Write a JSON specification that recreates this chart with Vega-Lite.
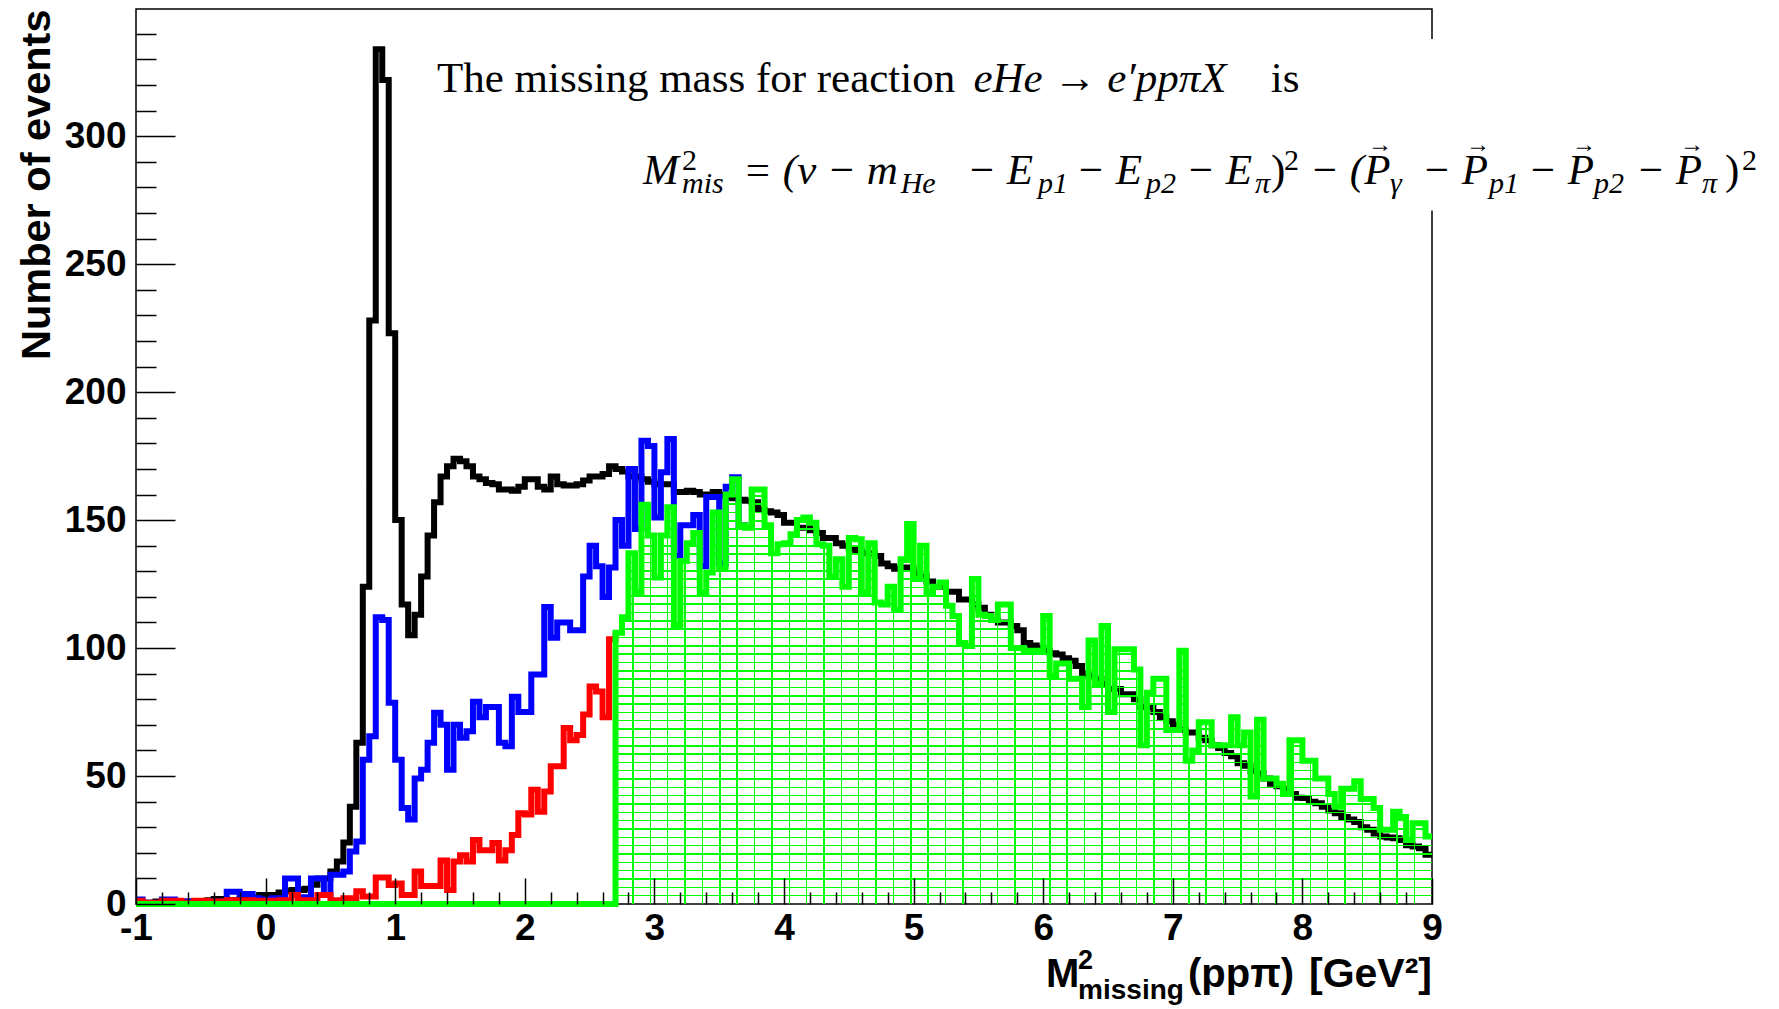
{
"$schema": "https://vega.github.io/schema/vega-lite/v6.json",
"width": 1296, "height": 895,
"autosize": {"type": "none"},
"padding": {"left": 136, "top": 9, "right": 347, "bottom": 105},
"background": "white",
"config": {
  "view": {"stroke": "#000000", "strokeWidth": 1.5},
  "axis": {"labelOverlap": false, "labelFlush": false, "labelBound": false},
  "text": {"font": "Liberation Serif", "fontSize": 43, "align": "left", "baseline": "alphabetic", "fill": "#000000"}
},
"resolve": {"axis": {"x": "independent", "y": "independent"}},
"datasets": {"hist": [
{"s":"k","x":-1,"n":1},{"s":"k","x":-0.95,"n":0.5},{"s":"k","x":-0.9,"n":0.5},{"s":"k","x":-0.85,"n":1},{"s":"k","x":-0.8,"n":0.5},{"s":"k","x":-0.75,"n":1},{"s":"k","x":-0.7,"n":1},{"s":"k","x":-0.65,"n":0.5},{"s":"k","x":-0.6,"n":1},{"s":"k","x":-0.55,"n":1},
{"s":"k","x":-0.5,"n":1},{"s":"k","x":-0.45,"n":1.5},{"s":"k","x":-0.4,"n":2},{"s":"k","x":-0.35,"n":2},{"s":"k","x":-0.3,"n":1.5},{"s":"k","x":-0.25,"n":1.5},{"s":"k","x":-0.2,"n":2},{"s":"k","x":-0.15,"n":1.5},{"s":"k","x":-0.1,"n":2.5},{"s":"k","x":-0.05,"n":3.5},
{"s":"k","x":0,"n":3.5},{"s":"k","x":0.05,"n":3.5},{"s":"k","x":0.1,"n":4.5},{"s":"k","x":0.15,"n":5},{"s":"k","x":0.2,"n":5.5},{"s":"k","x":0.25,"n":5.5},{"s":"k","x":0.3,"n":6},{"s":"k","x":0.35,"n":7.5},{"s":"k","x":0.4,"n":10},{"s":"k","x":0.45,"n":10},
{"s":"k","x":0.5,"n":12.7},{"s":"k","x":0.55,"n":16.6},{"s":"k","x":0.6,"n":24},{"s":"k","x":0.65,"n":38},{"s":"k","x":0.7,"n":63},{"s":"k","x":0.75,"n":124},{"s":"k","x":0.8,"n":228},{"s":"k","x":0.85,"n":334},{"s":"k","x":0.9,"n":322},{"s":"k","x":0.95,"n":223},
{"s":"k","x":1,"n":150},{"s":"k","x":1.05,"n":117},{"s":"k","x":1.1,"n":105},{"s":"k","x":1.15,"n":113},{"s":"k","x":1.2,"n":128},{"s":"k","x":1.25,"n":144},{"s":"k","x":1.3,"n":157},{"s":"k","x":1.35,"n":167},{"s":"k","x":1.4,"n":171},{"s":"k","x":1.45,"n":174},
{"s":"k","x":1.5,"n":173},{"s":"k","x":1.55,"n":171},{"s":"k","x":1.6,"n":167},{"s":"k","x":1.65,"n":166},{"s":"k","x":1.7,"n":164.5},{"s":"k","x":1.75,"n":164},{"s":"k","x":1.8,"n":162},{"s":"k","x":1.85,"n":162},{"s":"k","x":1.9,"n":161.5},{"s":"k","x":1.95,"n":163},
{"s":"k","x":2,"n":166},{"s":"k","x":2.05,"n":166},{"s":"k","x":2.1,"n":163},{"s":"k","x":2.15,"n":162},{"s":"k","x":2.2,"n":167},{"s":"k","x":2.25,"n":164},{"s":"k","x":2.3,"n":163.5},{"s":"k","x":2.35,"n":163.5},{"s":"k","x":2.4,"n":164},{"s":"k","x":2.45,"n":165.5},
{"s":"k","x":2.5,"n":167},{"s":"k","x":2.55,"n":167},{"s":"k","x":2.6,"n":168},{"s":"k","x":2.65,"n":171},{"s":"k","x":2.7,"n":170},{"s":"k","x":2.75,"n":169},{"s":"k","x":2.8,"n":167},{"s":"k","x":2.85,"n":167},{"s":"k","x":2.9,"n":166},{"s":"k","x":2.95,"n":165},
{"s":"k","x":3,"n":164},{"s":"k","x":3.05,"n":164},{"s":"k","x":3.1,"n":164},{"s":"k","x":3.15,"n":161},{"s":"k","x":3.2,"n":161},{"s":"k","x":3.25,"n":161.5},{"s":"k","x":3.3,"n":161},{"s":"k","x":3.35,"n":160},{"s":"k","x":3.4,"n":160},{"s":"k","x":3.45,"n":161},
{"s":"k","x":3.5,"n":160},{"s":"k","x":3.55,"n":159},{"s":"k","x":3.6,"n":158.5},{"s":"k","x":3.65,"n":158},{"s":"k","x":3.7,"n":157.6},{"s":"k","x":3.75,"n":157},{"s":"k","x":3.8,"n":154},{"s":"k","x":3.85,"n":153.5},{"s":"k","x":3.9,"n":153},{"s":"k","x":3.95,"n":152},
{"s":"k","x":4,"n":149},{"s":"k","x":4.05,"n":149},{"s":"k","x":4.1,"n":147},{"s":"k","x":4.15,"n":147},{"s":"k","x":4.2,"n":146},{"s":"k","x":4.25,"n":145},{"s":"k","x":4.3,"n":143},{"s":"k","x":4.35,"n":143},{"s":"k","x":4.4,"n":141},{"s":"k","x":4.45,"n":140},
{"s":"k","x":4.5,"n":139},{"s":"k","x":4.55,"n":138},{"s":"k","x":4.6,"n":137},{"s":"k","x":4.65,"n":137},{"s":"k","x":4.7,"n":136},{"s":"k","x":4.75,"n":133},{"s":"k","x":4.8,"n":132},{"s":"k","x":4.85,"n":131},{"s":"k","x":4.9,"n":131.5},{"s":"k","x":4.95,"n":131},
{"s":"k","x":5,"n":129},{"s":"k","x":5.05,"n":128},{"s":"k","x":5.1,"n":126},{"s":"k","x":5.15,"n":124},{"s":"k","x":5.2,"n":124},{"s":"k","x":5.25,"n":122},{"s":"k","x":5.3,"n":122},{"s":"k","x":5.35,"n":119},{"s":"k","x":5.4,"n":119},{"s":"k","x":5.45,"n":117},
{"s":"k","x":5.5,"n":115.8},{"s":"k","x":5.55,"n":113},{"s":"k","x":5.6,"n":111},{"s":"k","x":5.65,"n":110},{"s":"k","x":5.7,"n":110},{"s":"k","x":5.75,"n":108.6},{"s":"k","x":5.8,"n":107},{"s":"k","x":5.85,"n":102},{"s":"k","x":5.9,"n":101},{"s":"k","x":5.95,"n":100},
{"s":"k","x":6,"n":99},{"s":"k","x":6.05,"n":98},{"s":"k","x":6.1,"n":97.5},{"s":"k","x":6.15,"n":96},{"s":"k","x":6.2,"n":95},{"s":"k","x":6.25,"n":93},{"s":"k","x":6.3,"n":90},{"s":"k","x":6.35,"n":89},{"s":"k","x":6.4,"n":88},{"s":"k","x":6.45,"n":86},
{"s":"k","x":6.5,"n":84},{"s":"k","x":6.55,"n":84},{"s":"k","x":6.6,"n":82},{"s":"k","x":6.65,"n":82},{"s":"k","x":6.7,"n":80},{"s":"k","x":6.75,"n":77},{"s":"k","x":6.8,"n":77},{"s":"k","x":6.85,"n":75},{"s":"k","x":6.9,"n":73},{"s":"k","x":6.95,"n":71.4},
{"s":"k","x":7,"n":70},{"s":"k","x":7.05,"n":68},{"s":"k","x":7.1,"n":67},{"s":"k","x":7.15,"n":67},{"s":"k","x":7.2,"n":65},{"s":"k","x":7.25,"n":64},{"s":"k","x":7.3,"n":62},{"s":"k","x":7.35,"n":61},{"s":"k","x":7.4,"n":59},{"s":"k","x":7.45,"n":57.7},
{"s":"k","x":7.5,"n":55},{"s":"k","x":7.55,"n":54},{"s":"k","x":7.6,"n":52},{"s":"k","x":7.65,"n":51},{"s":"k","x":7.7,"n":49},{"s":"k","x":7.75,"n":47},{"s":"k","x":7.8,"n":46},{"s":"k","x":7.85,"n":45},{"s":"k","x":7.9,"n":43},{"s":"k","x":7.95,"n":41.5},
{"s":"k","x":8,"n":41.4},{"s":"k","x":8.05,"n":40},{"s":"k","x":8.1,"n":39.4},{"s":"k","x":8.15,"n":38},{"s":"k","x":8.2,"n":36.5},{"s":"k","x":8.25,"n":35.5},{"s":"k","x":8.3,"n":34},{"s":"k","x":8.35,"n":33},{"s":"k","x":8.4,"n":32},{"s":"k","x":8.45,"n":30},
{"s":"k","x":8.5,"n":29},{"s":"k","x":8.55,"n":27.5},{"s":"k","x":8.6,"n":26.4},{"s":"k","x":8.65,"n":26},{"s":"k","x":8.7,"n":25.7},{"s":"k","x":8.75,"n":25},{"s":"k","x":8.8,"n":23},{"s":"k","x":8.85,"n":22.5},{"s":"k","x":8.9,"n":21.8},{"s":"k","x":8.95,"n":19.2},{"s":"k","x":9,"n":19.2},

{"s":"b","x":-1,"n":1.8},{"s":"b","x":-0.95,"n":0.5},{"s":"b","x":-0.9,"n":0.5},{"s":"b","x":-0.85,"n":0.5},{"s":"b","x":-0.8,"n":1.8},{"s":"b","x":-0.75,"n":1.8},{"s":"b","x":-0.7,"n":1},{"s":"b","x":-0.65,"n":1},{"s":"b","x":-0.6,"n":1},{"s":"b","x":-0.55,"n":1},
{"s":"b","x":-0.5,"n":1},{"s":"b","x":-0.45,"n":1},{"s":"b","x":-0.4,"n":1},{"s":"b","x":-0.35,"n":1},{"s":"b","x":-0.3,"n":4.8},{"s":"b","x":-0.25,"n":4.8},{"s":"b","x":-0.2,"n":3.9},{"s":"b","x":-0.15,"n":3.9},{"s":"b","x":-0.1,"n":2.2},{"s":"b","x":-0.05,"n":1.8},
{"s":"b","x":0,"n":1.8},{"s":"b","x":0.05,"n":2.2},{"s":"b","x":0.1,"n":2.2},{"s":"b","x":0.15,"n":10},{"s":"b","x":0.2,"n":10},{"s":"b","x":0.25,"n":2.6},{"s":"b","x":0.3,"n":2.6},{"s":"b","x":0.35,"n":10},{"s":"b","x":0.4,"n":10},{"s":"b","x":0.45,"n":3.5},
{"s":"b","x":0.5,"n":11.4},{"s":"b","x":0.55,"n":11.4},{"s":"b","x":0.6,"n":12.7},{"s":"b","x":0.65,"n":20.5},{"s":"b","x":0.7,"n":24.4},{"s":"b","x":0.75,"n":56.4},{"s":"b","x":0.8,"n":65.5},{"s":"b","x":0.85,"n":112},{"s":"b","x":0.9,"n":111},{"s":"b","x":0.95,"n":78.6},
{"s":"b","x":1,"n":56.4},{"s":"b","x":1.05,"n":37.5},{"s":"b","x":1.1,"n":33},{"s":"b","x":1.15,"n":49},{"s":"b","x":1.2,"n":52.5},{"s":"b","x":1.25,"n":63},{"s":"b","x":1.3,"n":74.7},{"s":"b","x":1.35,"n":70},{"s":"b","x":1.4,"n":52.5},{"s":"b","x":1.45,"n":70},
{"s":"b","x":1.5,"n":65},{"s":"b","x":1.55,"n":67.5},{"s":"b","x":1.6,"n":79},{"s":"b","x":1.65,"n":73},{"s":"b","x":1.7,"n":77},{"s":"b","x":1.75,"n":77},{"s":"b","x":1.8,"n":63},{"s":"b","x":1.85,"n":61.6},{"s":"b","x":1.9,"n":81},{"s":"b","x":1.95,"n":75},
{"s":"b","x":2,"n":75},{"s":"b","x":2.05,"n":89.7},{"s":"b","x":2.1,"n":89.7},{"s":"b","x":2.15,"n":116},{"s":"b","x":2.2,"n":104},{"s":"b","x":2.25,"n":110},{"s":"b","x":2.3,"n":110},{"s":"b","x":2.35,"n":107},{"s":"b","x":2.4,"n":107},{"s":"b","x":2.45,"n":128},
{"s":"b","x":2.5,"n":140},{"s":"b","x":2.55,"n":132},{"s":"b","x":2.6,"n":120},{"s":"b","x":2.65,"n":131.5},{"s":"b","x":2.7,"n":150},{"s":"b","x":2.75,"n":140},{"s":"b","x":2.8,"n":170},{"s":"b","x":2.85,"n":146.5},{"s":"b","x":2.9,"n":181},{"s":"b","x":2.95,"n":179},
{"s":"b","x":3,"n":151},{"s":"b","x":3.05,"n":168.7},{"s":"b","x":3.1,"n":181.7},{"s":"b","x":3.15,"n":136},{"s":"b","x":3.2,"n":148},{"s":"b","x":3.25,"n":148},{"s":"b","x":3.3,"n":152},{"s":"b","x":3.35,"n":132},{"s":"b","x":3.4,"n":159},{"s":"b","x":3.45,"n":159},
{"s":"b","x":3.5,"n":133},{"s":"b","x":3.55,"n":163},{"s":"b","x":3.6,"n":166.7},{"s":"b","x":3.65,"n":148},{"s":"b","x":3.7,"n":147},

{"s":"r","x":-1,"n":1.3},{"s":"r","x":-0.95,"n":0.5},{"s":"r","x":-0.9,"n":0.5},{"s":"r","x":-0.85,"n":0.5},{"s":"r","x":-0.8,"n":1.3},{"s":"r","x":-0.75,"n":1.3},{"s":"r","x":-0.7,"n":1.3},{"s":"r","x":-0.65,"n":0.5},{"s":"r","x":-0.6,"n":0.5},{"s":"r","x":-0.55,"n":1.3},
{"s":"r","x":-0.5,"n":1.3},{"s":"r","x":-0.45,"n":1},{"s":"r","x":-0.4,"n":1},{"s":"r","x":-0.35,"n":1},{"s":"r","x":-0.3,"n":1.5},{"s":"r","x":-0.25,"n":1.5},{"s":"r","x":-0.2,"n":1.5},{"s":"r","x":-0.15,"n":1.5},{"s":"r","x":-0.1,"n":1.3},{"s":"r","x":-0.05,"n":1.3},
{"s":"r","x":0,"n":1.3},{"s":"r","x":0.05,"n":0.5},{"s":"r","x":0.1,"n":1.5},{"s":"r","x":0.15,"n":1.5},{"s":"r","x":0.2,"n":3.5},{"s":"r","x":0.25,"n":1.5},{"s":"r","x":0.3,"n":1.5},{"s":"r","x":0.35,"n":1.5},{"s":"r","x":0.4,"n":3.5},{"s":"r","x":0.45,"n":3.5},
{"s":"r","x":0.5,"n":1.5},{"s":"r","x":0.55,"n":1.5},{"s":"r","x":0.6,"n":2.2},{"s":"r","x":0.65,"n":2.2},{"s":"r","x":0.7,"n":5},{"s":"r","x":0.75,"n":2.9},{"s":"r","x":0.8,"n":2.9},{"s":"r","x":0.85,"n":10.4},{"s":"r","x":0.9,"n":10.4},{"s":"r","x":0.95,"n":7.4},
{"s":"r","x":1,"n":8},{"s":"r","x":1.05,"n":3.5},{"s":"r","x":1.1,"n":3.5},{"s":"r","x":1.15,"n":12.7},{"s":"r","x":1.2,"n":7},{"s":"r","x":1.25,"n":7},{"s":"r","x":1.3,"n":7},{"s":"r","x":1.35,"n":17},{"s":"r","x":1.4,"n":5.5},{"s":"r","x":1.45,"n":16.6},
{"s":"r","x":1.5,"n":19},{"s":"r","x":1.55,"n":16.6},{"s":"r","x":1.6,"n":25},{"s":"r","x":1.65,"n":21},{"s":"r","x":1.7,"n":21},{"s":"r","x":1.75,"n":23.8},{"s":"r","x":1.8,"n":17},{"s":"r","x":1.85,"n":21},{"s":"r","x":1.9,"n":27},{"s":"r","x":1.95,"n":35.5},
{"s":"r","x":2,"n":35},{"s":"r","x":2.05,"n":44.6},{"s":"r","x":2.1,"n":36},{"s":"r","x":2.15,"n":44},{"s":"r","x":2.2,"n":53.8},{"s":"r","x":2.25,"n":53.8},{"s":"r","x":2.3,"n":68.8},{"s":"r","x":2.35,"n":64},{"s":"r","x":2.4,"n":66},{"s":"r","x":2.45,"n":74},
{"s":"r","x":2.5,"n":85},{"s":"r","x":2.55,"n":83},{"s":"r","x":2.6,"n":73},{"s":"r","x":2.65,"n":103.4},{"s":"r","x":2.7,"n":106},

{"s":"g","x":-1,"n":0},
{"s":"g","x":2.7,"n":106},{"s":"g","x":2.75,"n":112},{"s":"g","x":2.8,"n":137},{"s":"g","x":2.85,"n":121.7},{"s":"g","x":2.9,"n":156},{"s":"g","x":2.95,"n":144},
{"s":"g","x":3,"n":127.6},{"s":"g","x":3.05,"n":144},{"s":"g","x":3.1,"n":155},{"s":"g","x":3.15,"n":109},{"s":"g","x":3.2,"n":134},{"s":"g","x":3.25,"n":141},{"s":"g","x":3.3,"n":145},{"s":"g","x":3.35,"n":121.7},{"s":"g","x":3.4,"n":129.5},{"s":"g","x":3.45,"n":153},
{"s":"g","x":3.5,"n":131},{"s":"g","x":3.55,"n":160},{"s":"g","x":3.6,"n":166},{"s":"g","x":3.65,"n":148},{"s":"g","x":3.7,"n":147},{"s":"g","x":3.75,"n":162},{"s":"g","x":3.8,"n":162},{"s":"g","x":3.85,"n":148},{"s":"g","x":3.9,"n":137},{"s":"g","x":3.95,"n":140.6},
{"s":"g","x":4,"n":141},{"s":"g","x":4.05,"n":144.5},{"s":"g","x":4.1,"n":150},{"s":"g","x":4.15,"n":151},{"s":"g","x":4.2,"n":149},{"s":"g","x":4.25,"n":140.6},{"s":"g","x":4.3,"n":140},{"s":"g","x":4.35,"n":128},{"s":"g","x":4.4,"n":134.7},{"s":"g","x":4.45,"n":124},
{"s":"g","x":4.5,"n":143},{"s":"g","x":4.55,"n":142.5},{"s":"g","x":4.6,"n":121.7},{"s":"g","x":4.65,"n":141},{"s":"g","x":4.7,"n":117.8},{"s":"g","x":4.75,"n":117},{"s":"g","x":4.8,"n":124},{"s":"g","x":4.85,"n":115},{"s":"g","x":4.9,"n":134.7},{"s":"g","x":4.95,"n":148.5},
{"s":"g","x":5,"n":127},{"s":"g","x":5.05,"n":140},{"s":"g","x":5.1,"n":121.7},{"s":"g","x":5.15,"n":124},{"s":"g","x":5.2,"n":125.6},{"s":"g","x":5.25,"n":116.5},{"s":"g","x":5.3,"n":112.5},{"s":"g","x":5.35,"n":102},{"s":"g","x":5.4,"n":100.8},{"s":"g","x":5.45,"n":127},
{"s":"g","x":5.5,"n":113},{"s":"g","x":5.55,"n":112.5},{"s":"g","x":5.6,"n":111},{"s":"g","x":5.65,"n":117},{"s":"g","x":5.7,"n":117},{"s":"g","x":5.75,"n":100},{"s":"g","x":5.8,"n":100},{"s":"g","x":5.85,"n":99},{"s":"g","x":5.9,"n":99},{"s":"g","x":5.95,"n":99},
{"s":"g","x":6,"n":112.5},{"s":"g","x":6.05,"n":89},{"s":"g","x":6.1,"n":94},{"s":"g","x":6.15,"n":94},{"s":"g","x":6.2,"n":88},{"s":"g","x":6.25,"n":88},{"s":"g","x":6.3,"n":77},{"s":"g","x":6.35,"n":103},{"s":"g","x":6.4,"n":86},{"s":"g","x":6.45,"n":108.6},
{"s":"g","x":6.5,"n":75},{"s":"g","x":6.55,"n":99.5},{"s":"g","x":6.6,"n":99.5},{"s":"g","x":6.65,"n":99.5},{"s":"g","x":6.7,"n":91.6},{"s":"g","x":6.75,"n":62},{"s":"g","x":6.8,"n":82.5},{"s":"g","x":6.85,"n":88},{"s":"g","x":6.9,"n":88},{"s":"g","x":6.95,"n":68},
{"s":"g","x":7,"n":68},{"s":"g","x":7.05,"n":99},{"s":"g","x":7.1,"n":56},{"s":"g","x":7.15,"n":60},{"s":"g","x":7.2,"n":71},{"s":"g","x":7.25,"n":71},{"s":"g","x":7.3,"n":62},{"s":"g","x":7.35,"n":62},{"s":"g","x":7.4,"n":62},{"s":"g","x":7.45,"n":73},
{"s":"g","x":7.5,"n":62},{"s":"g","x":7.55,"n":67},{"s":"g","x":7.6,"n":42},{"s":"g","x":7.65,"n":72},{"s":"g","x":7.7,"n":49},{"s":"g","x":7.75,"n":49},{"s":"g","x":7.8,"n":47},{"s":"g","x":7.85,"n":43},{"s":"g","x":7.9,"n":64},{"s":"g","x":7.95,"n":64},
{"s":"g","x":8,"n":56},{"s":"g","x":8.05,"n":56},{"s":"g","x":8.1,"n":49},{"s":"g","x":8.15,"n":49},{"s":"g","x":8.2,"n":43},{"s":"g","x":8.25,"n":38},{"s":"g","x":8.3,"n":45},{"s":"g","x":8.35,"n":45},{"s":"g","x":8.4,"n":48},{"s":"g","x":8.45,"n":41},
{"s":"g","x":8.5,"n":41},{"s":"g","x":8.55,"n":37.5},{"s":"g","x":8.6,"n":29},{"s":"g","x":8.65,"n":29},{"s":"g","x":8.7,"n":36},{"s":"g","x":8.75,"n":34},{"s":"g","x":8.8,"n":25},{"s":"g","x":8.85,"n":31.6},{"s":"g","x":8.9,"n":31.6},{"s":"g","x":8.95,"n":26.4},{"s":"g","x":9,"n":26.4}
]},
"layer": [
{
"data": {"name": "hist"},
"encoding": {
  "x": {"field": "x", "type": "quantitative",
    "scale": {"domain": [-1, 9], "nice": false, "zero": false},
    "axis": {"title": null, "domain": false, "grid": false, "zindex": 1,
      "values": [-1,-0.8,-0.6,-0.4,-0.2,0,0.2,0.4,0.6,0.8,1,1.2,1.4,1.6,1.8,2,2.2,2.4,2.6,2.8,3,3.2,3.4,3.6,3.8,4,4.2,4.4,4.6,4.8,5,5.2,5.4,5.6,5.8,6,6.2,6.4,6.6,6.8,7,7.2,7.4,7.6,7.8,8,8.2,8.4,8.6,8.8,9],
      "tickColor": "#000000", "tickWidth": 1.5,
      "tickSize": {"condition": {"test": "datum.value % 1 === 0", "value": -26}, "value": -12},
      "labelExpr": "datum.value % 1 === 0 ? '' + datum.value : ''",
      "labelFont": "Liberation Sans", "labelFontWeight": "bold", "labelFontSize": 37, "labelColor": "#000000",
      "labelPadding": 32, "labelOverlap": false, "labelFlush": false, "labelBound": false}},
  "y": {"field": "n", "type": "quantitative",
    "scale": {"domain": [0, 349.7], "nice": false},
    "axis": {"title": "Number of events", "titleFont": "Liberation Sans", "titleFontWeight": "bold", "titleFontSize": 41.5, "titleColor": "#000000",
      "titleAnchor": "end", "titlePadding": 6,
      "domain": false, "grid": false, "zindex": 1,
      "values": [0,10,20,30,40,50,60,70,80,90,100,110,120,130,140,150,160,170,180,190,200,210,220,230,240,250,260,270,280,290,300,310,320,330,340],
      "tickColor": "#000000", "tickWidth": 1.5,
      "tickSize": {"condition": {"test": "datum.value % 50 === 0", "value": -39}, "value": -20},
      "labelExpr": "datum.value % 50 === 0 ? '' + datum.value : ''",
      "labelFont": "Liberation Sans", "labelFontWeight": "bold", "labelFontSize": 37, "labelColor": "#000000",
      "labelPadding": 49, "labelOverlap": false, "labelFlush": false, "labelBound": false}}
},
"layer": [
  {"transform": [{"filter": "datum.s === 'k'"}], "mark": {"type": "line", "interpolate": "step-after", "color": "#000000", "strokeWidth": 6, "strokeCap": "butt", "strokeJoin": "miter"}},
  {"transform": [{"filter": "datum.s === 'b'"}], "mark": {"type": "line", "interpolate": "step-after", "color": "#0000ff", "strokeWidth": 6, "strokeCap": "butt", "strokeJoin": "miter"}},
  {"transform": [{"filter": "datum.s === 'r'"}], "mark": {"type": "line", "interpolate": "step-after", "color": "#ff0000", "strokeWidth": 6, "strokeCap": "butt", "strokeJoin": "miter"}},
  {"transform": [{"filter": "datum.s === 'g' && datum.x >= 2.7"}], "mark": {"type": "area", "interpolate": "step-after", "opacity": 1,
    "fill": {"gradient": "linear", "x1": 0, "y1": 0, "x2": 0, "y2": 1, "stops": [
      {"offset":0,"color":"#00ff00"},{"offset":0.0018,"color":"#00ff00"},{"offset":0.0018,"color":"rgba(0,255,0,0)"},
      {"offset":0.0178,"color":"rgba(0,255,0,0)"},{"offset":0.0178,"color":"#00ff00"},{"offset":0.0214,"color":"#00ff00"},{"offset":0.0214,"color":"rgba(0,255,0,0)"},
      {"offset":0.0374,"color":"rgba(0,255,0,0)"},{"offset":0.0374,"color":"#00ff00"},{"offset":0.0410,"color":"#00ff00"},{"offset":0.0410,"color":"rgba(0,255,0,0)"},
      {"offset":0.0570,"color":"rgba(0,255,0,0)"},{"offset":0.0570,"color":"#00ff00"},{"offset":0.0606,"color":"#00ff00"},{"offset":0.0606,"color":"rgba(0,255,0,0)"},
      {"offset":0.0766,"color":"rgba(0,255,0,0)"},{"offset":0.0766,"color":"#00ff00"},{"offset":0.0802,"color":"#00ff00"},{"offset":0.0802,"color":"rgba(0,255,0,0)"},
      {"offset":0.0962,"color":"rgba(0,255,0,0)"},{"offset":0.0962,"color":"#00ff00"},{"offset":0.0998,"color":"#00ff00"},{"offset":0.0998,"color":"rgba(0,255,0,0)"},
      {"offset":0.1158,"color":"rgba(0,255,0,0)"},{"offset":0.1158,"color":"#00ff00"},{"offset":0.1194,"color":"#00ff00"},{"offset":0.1194,"color":"rgba(0,255,0,0)"},
      {"offset":0.1355,"color":"rgba(0,255,0,0)"},{"offset":0.1355,"color":"#00ff00"},{"offset":0.1391,"color":"#00ff00"},{"offset":0.1391,"color":"rgba(0,255,0,0)"},
      {"offset":0.1551,"color":"rgba(0,255,0,0)"},{"offset":0.1551,"color":"#00ff00"},{"offset":0.1587,"color":"#00ff00"},{"offset":0.1587,"color":"rgba(0,255,0,0)"},
      {"offset":0.1747,"color":"rgba(0,255,0,0)"},{"offset":0.1747,"color":"#00ff00"},{"offset":0.1783,"color":"#00ff00"},{"offset":0.1783,"color":"rgba(0,255,0,0)"},
      {"offset":0.1943,"color":"rgba(0,255,0,0)"},{"offset":0.1943,"color":"#00ff00"},{"offset":0.1979,"color":"#00ff00"},{"offset":0.1979,"color":"rgba(0,255,0,0)"},
      {"offset":0.2139,"color":"rgba(0,255,0,0)"},{"offset":0.2139,"color":"#00ff00"},{"offset":0.2175,"color":"#00ff00"},{"offset":0.2175,"color":"rgba(0,255,0,0)"},
      {"offset":0.2335,"color":"rgba(0,255,0,0)"},{"offset":0.2335,"color":"#00ff00"},{"offset":0.2371,"color":"#00ff00"},{"offset":0.2371,"color":"rgba(0,255,0,0)"},
      {"offset":0.2531,"color":"rgba(0,255,0,0)"},{"offset":0.2531,"color":"#00ff00"},{"offset":0.2567,"color":"#00ff00"},{"offset":0.2567,"color":"rgba(0,255,0,0)"},
      {"offset":0.2727,"color":"rgba(0,255,0,0)"},{"offset":0.2727,"color":"#00ff00"},{"offset":0.2763,"color":"#00ff00"},{"offset":0.2763,"color":"rgba(0,255,0,0)"},
      {"offset":0.2923,"color":"rgba(0,255,0,0)"},{"offset":0.2923,"color":"#00ff00"},{"offset":0.2959,"color":"#00ff00"},{"offset":0.2959,"color":"rgba(0,255,0,0)"},
      {"offset":0.3119,"color":"rgba(0,255,0,0)"},{"offset":0.3119,"color":"#00ff00"},{"offset":0.3155,"color":"#00ff00"},{"offset":0.3155,"color":"rgba(0,255,0,0)"},
      {"offset":0.3315,"color":"rgba(0,255,0,0)"},{"offset":0.3315,"color":"#00ff00"},{"offset":0.3351,"color":"#00ff00"},{"offset":0.3351,"color":"rgba(0,255,0,0)"},
      {"offset":0.3511,"color":"rgba(0,255,0,0)"},{"offset":0.3511,"color":"#00ff00"},{"offset":0.3547,"color":"#00ff00"},{"offset":0.3547,"color":"rgba(0,255,0,0)"},
      {"offset":0.3707,"color":"rgba(0,255,0,0)"},{"offset":0.3707,"color":"#00ff00"},{"offset":0.3743,"color":"#00ff00"},{"offset":0.3743,"color":"rgba(0,255,0,0)"},
      {"offset":0.3904,"color":"rgba(0,255,0,0)"},{"offset":0.3904,"color":"#00ff00"},{"offset":0.3940,"color":"#00ff00"},{"offset":0.3940,"color":"rgba(0,255,0,0)"},
      {"offset":0.4100,"color":"rgba(0,255,0,0)"},{"offset":0.4100,"color":"#00ff00"},{"offset":0.4136,"color":"#00ff00"},{"offset":0.4136,"color":"rgba(0,255,0,0)"},
      {"offset":0.4296,"color":"rgba(0,255,0,0)"},{"offset":0.4296,"color":"#00ff00"},{"offset":0.4332,"color":"#00ff00"},{"offset":0.4332,"color":"rgba(0,255,0,0)"},
      {"offset":0.4492,"color":"rgba(0,255,0,0)"},{"offset":0.4492,"color":"#00ff00"},{"offset":0.4528,"color":"#00ff00"},{"offset":0.4528,"color":"rgba(0,255,0,0)"},
      {"offset":0.4688,"color":"rgba(0,255,0,0)"},{"offset":0.4688,"color":"#00ff00"},{"offset":0.4724,"color":"#00ff00"},{"offset":0.4724,"color":"rgba(0,255,0,0)"},
      {"offset":0.4884,"color":"rgba(0,255,0,0)"},{"offset":0.4884,"color":"#00ff00"},{"offset":0.4920,"color":"#00ff00"},{"offset":0.4920,"color":"rgba(0,255,0,0)"},
      {"offset":0.5080,"color":"rgba(0,255,0,0)"},{"offset":0.5080,"color":"#00ff00"},{"offset":0.5116,"color":"#00ff00"},{"offset":0.5116,"color":"rgba(0,255,0,0)"},
      {"offset":0.5276,"color":"rgba(0,255,0,0)"},{"offset":0.5276,"color":"#00ff00"},{"offset":0.5312,"color":"#00ff00"},{"offset":0.5312,"color":"rgba(0,255,0,0)"},
      {"offset":0.5472,"color":"rgba(0,255,0,0)"},{"offset":0.5472,"color":"#00ff00"},{"offset":0.5508,"color":"#00ff00"},{"offset":0.5508,"color":"rgba(0,255,0,0)"},
      {"offset":0.5668,"color":"rgba(0,255,0,0)"},{"offset":0.5668,"color":"#00ff00"},{"offset":0.5704,"color":"#00ff00"},{"offset":0.5704,"color":"rgba(0,255,0,0)"},
      {"offset":0.5864,"color":"rgba(0,255,0,0)"},{"offset":0.5864,"color":"#00ff00"},{"offset":0.5900,"color":"#00ff00"},{"offset":0.5900,"color":"rgba(0,255,0,0)"},
      {"offset":0.6060,"color":"rgba(0,255,0,0)"},{"offset":0.6060,"color":"#00ff00"},{"offset":0.6096,"color":"#00ff00"},{"offset":0.6096,"color":"rgba(0,255,0,0)"},
      {"offset":0.6257,"color":"rgba(0,255,0,0)"},{"offset":0.6257,"color":"#00ff00"},{"offset":0.6293,"color":"#00ff00"},{"offset":0.6293,"color":"rgba(0,255,0,0)"},
      {"offset":0.6453,"color":"rgba(0,255,0,0)"},{"offset":0.6453,"color":"#00ff00"},{"offset":0.6489,"color":"#00ff00"},{"offset":0.6489,"color":"rgba(0,255,0,0)"},
      {"offset":0.6649,"color":"rgba(0,255,0,0)"},{"offset":0.6649,"color":"#00ff00"},{"offset":0.6685,"color":"#00ff00"},{"offset":0.6685,"color":"rgba(0,255,0,0)"},
      {"offset":0.6845,"color":"rgba(0,255,0,0)"},{"offset":0.6845,"color":"#00ff00"},{"offset":0.6881,"color":"#00ff00"},{"offset":0.6881,"color":"rgba(0,255,0,0)"},
      {"offset":0.7041,"color":"rgba(0,255,0,0)"},{"offset":0.7041,"color":"#00ff00"},{"offset":0.7077,"color":"#00ff00"},{"offset":0.7077,"color":"rgba(0,255,0,0)"},
      {"offset":0.7237,"color":"rgba(0,255,0,0)"},{"offset":0.7237,"color":"#00ff00"},{"offset":0.7273,"color":"#00ff00"},{"offset":0.7273,"color":"rgba(0,255,0,0)"},
      {"offset":0.7433,"color":"rgba(0,255,0,0)"},{"offset":0.7433,"color":"#00ff00"},{"offset":0.7469,"color":"#00ff00"},{"offset":0.7469,"color":"rgba(0,255,0,0)"},
      {"offset":0.7629,"color":"rgba(0,255,0,0)"},{"offset":0.7629,"color":"#00ff00"},{"offset":0.7665,"color":"#00ff00"},{"offset":0.7665,"color":"rgba(0,255,0,0)"},
      {"offset":0.7825,"color":"rgba(0,255,0,0)"},{"offset":0.7825,"color":"#00ff00"},{"offset":0.7861,"color":"#00ff00"},{"offset":0.7861,"color":"rgba(0,255,0,0)"},
      {"offset":0.8021,"color":"rgba(0,255,0,0)"},{"offset":0.8021,"color":"#00ff00"},{"offset":0.8057,"color":"#00ff00"},{"offset":0.8057,"color":"rgba(0,255,0,0)"},
      {"offset":0.8217,"color":"rgba(0,255,0,0)"},{"offset":0.8217,"color":"#00ff00"},{"offset":0.8253,"color":"#00ff00"},{"offset":0.8253,"color":"rgba(0,255,0,0)"},
      {"offset":0.8413,"color":"rgba(0,255,0,0)"},{"offset":0.8413,"color":"#00ff00"},{"offset":0.8449,"color":"#00ff00"},{"offset":0.8449,"color":"rgba(0,255,0,0)"},
      {"offset":0.8609,"color":"rgba(0,255,0,0)"},{"offset":0.8609,"color":"#00ff00"},{"offset":0.8645,"color":"#00ff00"},{"offset":0.8645,"color":"rgba(0,255,0,0)"},
      {"offset":0.8806,"color":"rgba(0,255,0,0)"},{"offset":0.8806,"color":"#00ff00"},{"offset":0.8842,"color":"#00ff00"},{"offset":0.8842,"color":"rgba(0,255,0,0)"},
      {"offset":0.9002,"color":"rgba(0,255,0,0)"},{"offset":0.9002,"color":"#00ff00"},{"offset":0.9038,"color":"#00ff00"},{"offset":0.9038,"color":"rgba(0,255,0,0)"},
      {"offset":0.9198,"color":"rgba(0,255,0,0)"},{"offset":0.9198,"color":"#00ff00"},{"offset":0.9234,"color":"#00ff00"},{"offset":0.9234,"color":"rgba(0,255,0,0)"},
      {"offset":0.9394,"color":"rgba(0,255,0,0)"},{"offset":0.9394,"color":"#00ff00"},{"offset":0.9430,"color":"#00ff00"},{"offset":0.9430,"color":"rgba(0,255,0,0)"},
      {"offset":0.9590,"color":"rgba(0,255,0,0)"},{"offset":0.9590,"color":"#00ff00"},{"offset":0.9626,"color":"#00ff00"},{"offset":0.9626,"color":"rgba(0,255,0,0)"},
      {"offset":0.9786,"color":"rgba(0,255,0,0)"},{"offset":0.9786,"color":"#00ff00"},{"offset":0.9822,"color":"#00ff00"},{"offset":0.9822,"color":"rgba(0,255,0,0)"},
      {"offset":1,"color":"rgba(0,255,0,0)"}
    ]}}},
  {"transform": [{"filter": "datum.s === 'g' && datum.x >= 2.7"}], "mark": {"type": "area", "interpolate": "step-after", "opacity": 1,
    "fill": {"gradient": "linear", "x1": 0, "y1": 0, "x2": 1, "y2": 0, "stops": [
      {"offset":0,"color":"rgba(0,255,0,0)"},
      {"offset":0.0204,"color":"rgba(0,255,0,0)"},{"offset":0.0204,"color":"#00ff00"},{"offset":0.0222,"color":"#00ff00"},{"offset":0.0222,"color":"rgba(0,255,0,0)"},
      {"offset":0.0417,"color":"rgba(0,255,0,0)"},{"offset":0.0417,"color":"#00ff00"},{"offset":0.0435,"color":"#00ff00"},{"offset":0.0435,"color":"rgba(0,255,0,0)"},
      {"offset":0.0629,"color":"rgba(0,255,0,0)"},{"offset":0.0629,"color":"#00ff00"},{"offset":0.0647,"color":"#00ff00"},{"offset":0.0647,"color":"rgba(0,255,0,0)"},
      {"offset":0.0842,"color":"rgba(0,255,0,0)"},{"offset":0.0842,"color":"#00ff00"},{"offset":0.0860,"color":"#00ff00"},{"offset":0.0860,"color":"rgba(0,255,0,0)"},
      {"offset":0.1055,"color":"rgba(0,255,0,0)"},{"offset":0.1055,"color":"#00ff00"},{"offset":0.1073,"color":"#00ff00"},{"offset":0.1073,"color":"rgba(0,255,0,0)"},
      {"offset":0.1268,"color":"rgba(0,255,0,0)"},{"offset":0.1268,"color":"#00ff00"},{"offset":0.1286,"color":"#00ff00"},{"offset":0.1286,"color":"rgba(0,255,0,0)"},
      {"offset":0.1480,"color":"rgba(0,255,0,0)"},{"offset":0.1480,"color":"#00ff00"},{"offset":0.1498,"color":"#00ff00"},{"offset":0.1498,"color":"rgba(0,255,0,0)"},
      {"offset":0.1693,"color":"rgba(0,255,0,0)"},{"offset":0.1693,"color":"#00ff00"},{"offset":0.1711,"color":"#00ff00"},{"offset":0.1711,"color":"rgba(0,255,0,0)"},
      {"offset":0.1906,"color":"rgba(0,255,0,0)"},{"offset":0.1906,"color":"#00ff00"},{"offset":0.1924,"color":"#00ff00"},{"offset":0.1924,"color":"rgba(0,255,0,0)"},
      {"offset":0.2119,"color":"rgba(0,255,0,0)"},{"offset":0.2119,"color":"#00ff00"},{"offset":0.2137,"color":"#00ff00"},{"offset":0.2137,"color":"rgba(0,255,0,0)"},
      {"offset":0.2331,"color":"rgba(0,255,0,0)"},{"offset":0.2331,"color":"#00ff00"},{"offset":0.2349,"color":"#00ff00"},{"offset":0.2349,"color":"rgba(0,255,0,0)"},
      {"offset":0.2544,"color":"rgba(0,255,0,0)"},{"offset":0.2544,"color":"#00ff00"},{"offset":0.2562,"color":"#00ff00"},{"offset":0.2562,"color":"rgba(0,255,0,0)"},
      {"offset":0.2757,"color":"rgba(0,255,0,0)"},{"offset":0.2757,"color":"#00ff00"},{"offset":0.2775,"color":"#00ff00"},{"offset":0.2775,"color":"rgba(0,255,0,0)"},
      {"offset":0.2970,"color":"rgba(0,255,0,0)"},{"offset":0.2970,"color":"#00ff00"},{"offset":0.2988,"color":"#00ff00"},{"offset":0.2988,"color":"rgba(0,255,0,0)"},
      {"offset":0.3182,"color":"rgba(0,255,0,0)"},{"offset":0.3182,"color":"#00ff00"},{"offset":0.3200,"color":"#00ff00"},{"offset":0.3200,"color":"rgba(0,255,0,0)"},
      {"offset":0.3395,"color":"rgba(0,255,0,0)"},{"offset":0.3395,"color":"#00ff00"},{"offset":0.3413,"color":"#00ff00"},{"offset":0.3413,"color":"rgba(0,255,0,0)"},
      {"offset":0.3608,"color":"rgba(0,255,0,0)"},{"offset":0.3608,"color":"#00ff00"},{"offset":0.3626,"color":"#00ff00"},{"offset":0.3626,"color":"rgba(0,255,0,0)"},
      {"offset":0.3821,"color":"rgba(0,255,0,0)"},{"offset":0.3821,"color":"#00ff00"},{"offset":0.3839,"color":"#00ff00"},{"offset":0.3839,"color":"rgba(0,255,0,0)"},
      {"offset":0.4034,"color":"rgba(0,255,0,0)"},{"offset":0.4034,"color":"#00ff00"},{"offset":0.4052,"color":"#00ff00"},{"offset":0.4052,"color":"rgba(0,255,0,0)"},
      {"offset":0.4246,"color":"rgba(0,255,0,0)"},{"offset":0.4246,"color":"#00ff00"},{"offset":0.4264,"color":"#00ff00"},{"offset":0.4264,"color":"rgba(0,255,0,0)"},
      {"offset":0.4459,"color":"rgba(0,255,0,0)"},{"offset":0.4459,"color":"#00ff00"},{"offset":0.4477,"color":"#00ff00"},{"offset":0.4477,"color":"rgba(0,255,0,0)"},
      {"offset":0.4672,"color":"rgba(0,255,0,0)"},{"offset":0.4672,"color":"#00ff00"},{"offset":0.4690,"color":"#00ff00"},{"offset":0.4690,"color":"rgba(0,255,0,0)"},
      {"offset":0.4885,"color":"rgba(0,255,0,0)"},{"offset":0.4885,"color":"#00ff00"},{"offset":0.4903,"color":"#00ff00"},{"offset":0.4903,"color":"rgba(0,255,0,0)"},
      {"offset":0.5097,"color":"rgba(0,255,0,0)"},{"offset":0.5097,"color":"#00ff00"},{"offset":0.5115,"color":"#00ff00"},{"offset":0.5115,"color":"rgba(0,255,0,0)"},
      {"offset":0.5310,"color":"rgba(0,255,0,0)"},{"offset":0.5310,"color":"#00ff00"},{"offset":0.5328,"color":"#00ff00"},{"offset":0.5328,"color":"rgba(0,255,0,0)"},
      {"offset":0.5523,"color":"rgba(0,255,0,0)"},{"offset":0.5523,"color":"#00ff00"},{"offset":0.5541,"color":"#00ff00"},{"offset":0.5541,"color":"rgba(0,255,0,0)"},
      {"offset":0.5736,"color":"rgba(0,255,0,0)"},{"offset":0.5736,"color":"#00ff00"},{"offset":0.5754,"color":"#00ff00"},{"offset":0.5754,"color":"rgba(0,255,0,0)"},
      {"offset":0.5948,"color":"rgba(0,255,0,0)"},{"offset":0.5948,"color":"#00ff00"},{"offset":0.5966,"color":"#00ff00"},{"offset":0.5966,"color":"rgba(0,255,0,0)"},
      {"offset":0.6161,"color":"rgba(0,255,0,0)"},{"offset":0.6161,"color":"#00ff00"},{"offset":0.6179,"color":"#00ff00"},{"offset":0.6179,"color":"rgba(0,255,0,0)"},
      {"offset":0.6374,"color":"rgba(0,255,0,0)"},{"offset":0.6374,"color":"#00ff00"},{"offset":0.6392,"color":"#00ff00"},{"offset":0.6392,"color":"rgba(0,255,0,0)"},
      {"offset":0.6587,"color":"rgba(0,255,0,0)"},{"offset":0.6587,"color":"#00ff00"},{"offset":0.6605,"color":"#00ff00"},{"offset":0.6605,"color":"rgba(0,255,0,0)"},
      {"offset":0.6800,"color":"rgba(0,255,0,0)"},{"offset":0.6800,"color":"#00ff00"},{"offset":0.6818,"color":"#00ff00"},{"offset":0.6818,"color":"rgba(0,255,0,0)"},
      {"offset":0.7012,"color":"rgba(0,255,0,0)"},{"offset":0.7012,"color":"#00ff00"},{"offset":0.7030,"color":"#00ff00"},{"offset":0.7030,"color":"rgba(0,255,0,0)"},
      {"offset":0.7225,"color":"rgba(0,255,0,0)"},{"offset":0.7225,"color":"#00ff00"},{"offset":0.7243,"color":"#00ff00"},{"offset":0.7243,"color":"rgba(0,255,0,0)"},
      {"offset":0.7438,"color":"rgba(0,255,0,0)"},{"offset":0.7438,"color":"#00ff00"},{"offset":0.7456,"color":"#00ff00"},{"offset":0.7456,"color":"rgba(0,255,0,0)"},
      {"offset":0.7651,"color":"rgba(0,255,0,0)"},{"offset":0.7651,"color":"#00ff00"},{"offset":0.7669,"color":"#00ff00"},{"offset":0.7669,"color":"rgba(0,255,0,0)"},
      {"offset":0.7863,"color":"rgba(0,255,0,0)"},{"offset":0.7863,"color":"#00ff00"},{"offset":0.7881,"color":"#00ff00"},{"offset":0.7881,"color":"rgba(0,255,0,0)"},
      {"offset":0.8076,"color":"rgba(0,255,0,0)"},{"offset":0.8076,"color":"#00ff00"},{"offset":0.8094,"color":"#00ff00"},{"offset":0.8094,"color":"rgba(0,255,0,0)"},
      {"offset":0.8289,"color":"rgba(0,255,0,0)"},{"offset":0.8289,"color":"#00ff00"},{"offset":0.8307,"color":"#00ff00"},{"offset":0.8307,"color":"rgba(0,255,0,0)"},
      {"offset":0.8502,"color":"rgba(0,255,0,0)"},{"offset":0.8502,"color":"#00ff00"},{"offset":0.8520,"color":"#00ff00"},{"offset":0.8520,"color":"rgba(0,255,0,0)"},
      {"offset":0.8714,"color":"rgba(0,255,0,0)"},{"offset":0.8714,"color":"#00ff00"},{"offset":0.8732,"color":"#00ff00"},{"offset":0.8732,"color":"rgba(0,255,0,0)"},
      {"offset":0.8927,"color":"rgba(0,255,0,0)"},{"offset":0.8927,"color":"#00ff00"},{"offset":0.8945,"color":"#00ff00"},{"offset":0.8945,"color":"rgba(0,255,0,0)"},
      {"offset":0.9140,"color":"rgba(0,255,0,0)"},{"offset":0.9140,"color":"#00ff00"},{"offset":0.9158,"color":"#00ff00"},{"offset":0.9158,"color":"rgba(0,255,0,0)"},
      {"offset":0.9353,"color":"rgba(0,255,0,0)"},{"offset":0.9353,"color":"#00ff00"},{"offset":0.9371,"color":"#00ff00"},{"offset":0.9371,"color":"rgba(0,255,0,0)"},
      {"offset":0.9565,"color":"rgba(0,255,0,0)"},{"offset":0.9565,"color":"#00ff00"},{"offset":0.9583,"color":"#00ff00"},{"offset":0.9583,"color":"rgba(0,255,0,0)"},
      {"offset":0.9778,"color":"rgba(0,255,0,0)"},{"offset":0.9778,"color":"#00ff00"},{"offset":0.9796,"color":"#00ff00"},{"offset":0.9796,"color":"rgba(0,255,0,0)"},
      {"offset":1,"color":"rgba(0,255,0,0)"}
    ]}}},
  {"transform": [{"filter": "datum.s === 'g'"}], "mark": {"type": "line", "interpolate": "step-after", "color": "#00ff00", "strokeWidth": 6, "strokeCap": "butt", "strokeJoin": "miter"}}
]
},

{"data": {"values": [{}]}, "mark": {"type": "rect", "fill": "#ffffff", "stroke": null}, "encoding": {"x": {"datum": 8.97, "type": "quantitative", "axis": null, "scale": {"domain": [-1, 9], "nice": false, "zero": false}}, "x2": {"datum": 9.06}, "y": {"datum": 271, "type": "quantitative", "axis": null, "scale": {"domain": [0, 349.7], "nice": false}}, "y2": {"datum": 338}}},

{"data": {"values": [{}]}, "mark": {"type": "text", "text": "The missing mass for reaction"}, "encoding": {"x": {"datum": 1.3225, "type": "quantitative", "axis": null, "scale": {"domain": [-1, 9], "nice": false, "zero": false}}, "y": {"datum": 317.3, "type": "quantitative", "axis": null, "scale": {"domain": [0, 349.7], "nice": false}}}},
{"data": {"values": [{}]}, "mark": {"type": "text", "text": "eHe  →  e′ppπX", "fontStyle": "italic"}, "encoding": {"x": {"datum": 5.462, "type": "quantitative", "axis": null, "scale": {"domain": [-1, 9], "nice": false, "zero": false}}, "y": {"datum": 317.3, "type": "quantitative", "axis": null, "scale": {"domain": [0, 349.7], "nice": false}}}},
{"data": {"values": [{}]}, "mark": {"type": "text", "text": "is"}, "encoding": {"x": {"datum": 7.756, "type": "quantitative", "axis": null, "scale": {"domain": [-1, 9], "nice": false, "zero": false}}, "y": {"datum": 317.3, "type": "quantitative", "axis": null, "scale": {"domain": [0, 349.7], "nice": false}}}},

{"data": {"values": [{}]}, "mark": {"type": "text", "text": "M", "fontStyle": "italic"}, "encoding": {"x": {"datum": 2.912, "type": "quantitative", "axis": null, "scale": {"domain": [-1, 9], "nice": false, "zero": false}}, "y": {"datum": 281.2, "type": "quantitative", "axis": null, "scale": {"domain": [0, 349.7], "nice": false}}}},
{"data": {"values": [{}]}, "mark": {"type": "text", "text": "2", "fontSize": 30}, "encoding": {"x": {"datum": 3.213, "type": "quantitative", "axis": null, "scale": {"domain": [-1, 9], "nice": false, "zero": false}}, "y": {"datum": 286.6, "type": "quantitative", "axis": null, "scale": {"domain": [0, 349.7], "nice": false}}}},
{"data": {"values": [{}]}, "mark": {"type": "text", "text": "mis", "fontSize": 30, "fontStyle": "italic"}, "encoding": {"x": {"datum": 3.213, "type": "quantitative", "axis": null, "scale": {"domain": [-1, 9], "nice": false, "zero": false}}, "y": {"datum": 277.7, "type": "quantitative", "axis": null, "scale": {"domain": [0, 349.7], "nice": false}}}},
{"data": {"values": [{}]}, "mark": {"type": "text", "text": "= (ν − m", "fontStyle": "italic"}, "encoding": {"x": {"datum": 3.684, "type": "quantitative", "axis": null, "scale": {"domain": [-1, 9], "nice": false, "zero": false}}, "y": {"datum": 281.2, "type": "quantitative", "axis": null, "scale": {"domain": [0, 349.7], "nice": false}}}},
{"data": {"values": [{}]}, "mark": {"type": "text", "text": "He", "fontSize": 30, "fontStyle": "italic"}, "encoding": {"x": {"datum": 4.9, "type": "quantitative", "axis": null, "scale": {"domain": [-1, 9], "nice": false, "zero": false}}, "y": {"datum": 277.7, "type": "quantitative", "axis": null, "scale": {"domain": [0, 349.7], "nice": false}}}},
{"data": {"values": [{}]}, "mark": {"type": "text", "text": "− E", "fontStyle": "italic"}, "encoding": {"x": {"datum": 5.412, "type": "quantitative", "axis": null, "scale": {"domain": [-1, 9], "nice": false, "zero": false}}, "y": {"datum": 281.2, "type": "quantitative", "axis": null, "scale": {"domain": [0, 349.7], "nice": false}}}},
{"data": {"values": [{}]}, "mark": {"type": "text", "text": "p1", "fontSize": 30, "fontStyle": "italic"}, "encoding": {"x": {"datum": 5.96, "type": "quantitative", "axis": null, "scale": {"domain": [-1, 9], "nice": false, "zero": false}}, "y": {"datum": 277.7, "type": "quantitative", "axis": null, "scale": {"domain": [0, 349.7], "nice": false}}}},
{"data": {"values": [{}]}, "mark": {"type": "text", "text": "− E", "fontStyle": "italic"}, "encoding": {"x": {"datum": 6.253, "type": "quantitative", "axis": null, "scale": {"domain": [-1, 9], "nice": false, "zero": false}}, "y": {"datum": 281.2, "type": "quantitative", "axis": null, "scale": {"domain": [0, 349.7], "nice": false}}}},
{"data": {"values": [{}]}, "mark": {"type": "text", "text": "p2", "fontSize": 30, "fontStyle": "italic"}, "encoding": {"x": {"datum": 6.793, "type": "quantitative", "axis": null, "scale": {"domain": [-1, 9], "nice": false, "zero": false}}, "y": {"datum": 277.7, "type": "quantitative", "axis": null, "scale": {"domain": [0, 349.7], "nice": false}}}},
{"data": {"values": [{}]}, "mark": {"type": "text", "text": "− E", "fontStyle": "italic"}, "encoding": {"x": {"datum": 7.102, "type": "quantitative", "axis": null, "scale": {"domain": [-1, 9], "nice": false, "zero": false}}, "y": {"datum": 281.2, "type": "quantitative", "axis": null, "scale": {"domain": [0, 349.7], "nice": false}}}},
{"data": {"values": [{}]}, "mark": {"type": "text", "text": "π", "fontSize": 30, "fontStyle": "italic"}, "encoding": {"x": {"datum": 7.634, "type": "quantitative", "axis": null, "scale": {"domain": [-1, 9], "nice": false, "zero": false}}, "y": {"datum": 277.7, "type": "quantitative", "axis": null, "scale": {"domain": [0, 349.7], "nice": false}}}},
{"data": {"values": [{}]}, "mark": {"type": "text", "text": ")"}, "encoding": {"x": {"datum": 7.758, "type": "quantitative", "axis": null, "scale": {"domain": [-1, 9], "nice": false, "zero": false}}, "y": {"datum": 281.2, "type": "quantitative", "axis": null, "scale": {"domain": [0, 349.7], "nice": false}}}},
{"data": {"values": [{}]}, "mark": {"type": "text", "text": "2", "fontSize": 30}, "encoding": {"x": {"datum": 7.858, "type": "quantitative", "axis": null, "scale": {"domain": [-1, 9], "nice": false, "zero": false}}, "y": {"datum": 286.6, "type": "quantitative", "axis": null, "scale": {"domain": [0, 349.7], "nice": false}}}},
{"data": {"values": [{}]}, "mark": {"type": "text", "text": "− (P", "fontStyle": "italic"}, "encoding": {"x": {"datum": 8.059, "type": "quantitative", "axis": null, "scale": {"domain": [-1, 9], "nice": false, "zero": false}}, "y": {"datum": 281.2, "type": "quantitative", "axis": null, "scale": {"domain": [0, 349.7], "nice": false}}}},
{"data": {"values": [{}]}, "mark": {"type": "text", "text": "γ", "fontSize": 30, "fontStyle": "italic"}, "encoding": {"x": {"datum": 8.676, "type": "quantitative", "axis": null, "scale": {"domain": [-1, 9], "nice": false, "zero": false}}, "y": {"datum": 277.7, "type": "quantitative", "axis": null, "scale": {"domain": [0, 349.7], "nice": false}}}},
{"data": {"values": [{}]}, "mark": {"type": "text", "text": "− P", "fontStyle": "italic"}, "encoding": {"x": {"datum": 8.923, "type": "quantitative", "axis": null, "scale": {"domain": [-1, 9], "nice": false, "zero": false}}, "y": {"datum": 281.2, "type": "quantitative", "axis": null, "scale": {"domain": [0, 349.7], "nice": false}}}},
{"data": {"values": [{}]}, "mark": {"type": "text", "text": "p1", "fontSize": 30, "fontStyle": "italic"}, "encoding": {"x": {"datum": 9.44, "type": "quantitative", "axis": null, "scale": {"domain": [-1, 9], "nice": false, "zero": false}}, "y": {"datum": 277.7, "type": "quantitative", "axis": null, "scale": {"domain": [0, 349.7], "nice": false}}}},
{"data": {"values": [{}]}, "mark": {"type": "text", "text": "− P", "fontStyle": "italic"}, "encoding": {"x": {"datum": 9.741, "type": "quantitative", "axis": null, "scale": {"domain": [-1, 9], "nice": false, "zero": false}}, "y": {"datum": 281.2, "type": "quantitative", "axis": null, "scale": {"domain": [0, 349.7], "nice": false}}}},
{"data": {"values": [{}]}, "mark": {"type": "text", "text": "p2", "fontSize": 30, "fontStyle": "italic"}, "encoding": {"x": {"datum": 10.25, "type": "quantitative", "axis": null, "scale": {"domain": [-1, 9], "nice": false, "zero": false}}, "y": {"datum": 277.7, "type": "quantitative", "axis": null, "scale": {"domain": [0, 349.7], "nice": false}}}},
{"data": {"values": [{}]}, "mark": {"type": "text", "text": "− P", "fontStyle": "italic"}, "encoding": {"x": {"datum": 10.574, "type": "quantitative", "axis": null, "scale": {"domain": [-1, 9], "nice": false, "zero": false}}, "y": {"datum": 281.2, "type": "quantitative", "axis": null, "scale": {"domain": [0, 349.7], "nice": false}}}},
{"data": {"values": [{}]}, "mark": {"type": "text", "text": "π", "fontSize": 30, "fontStyle": "italic"}, "encoding": {"x": {"datum": 11.083, "type": "quantitative", "axis": null, "scale": {"domain": [-1, 9], "nice": false, "zero": false}}, "y": {"datum": 277.7, "type": "quantitative", "axis": null, "scale": {"domain": [0, 349.7], "nice": false}}}},
{"data": {"values": [{}]}, "mark": {"type": "text", "text": ")"}, "encoding": {"x": {"datum": 11.261, "type": "quantitative", "axis": null, "scale": {"domain": [-1, 9], "nice": false, "zero": false}}, "y": {"datum": 281.2, "type": "quantitative", "axis": null, "scale": {"domain": [0, 349.7], "nice": false}}}},
{"data": {"values": [{}]}, "mark": {"type": "text", "text": "2", "fontSize": 30}, "encoding": {"x": {"datum": 11.392, "type": "quantitative", "axis": null, "scale": {"domain": [-1, 9], "nice": false, "zero": false}}, "y": {"datum": 286.6, "type": "quantitative", "axis": null, "scale": {"domain": [0, 349.7], "nice": false}}}},
{"data": {"values": [{}]}, "mark": {"type": "text", "text": "→", "fontSize": 24}, "encoding": {"x": {"datum": 8.506, "type": "quantitative", "axis": null, "scale": {"domain": [-1, 9], "nice": false, "zero": false}}, "y": {"datum": 293.7, "type": "quantitative", "axis": null, "scale": {"domain": [0, 349.7], "nice": false}}}},
{"data": {"values": [{}]}, "mark": {"type": "text", "text": "→", "fontSize": 24}, "encoding": {"x": {"datum": 9.262, "type": "quantitative", "axis": null, "scale": {"domain": [-1, 9], "nice": false, "zero": false}}, "y": {"datum": 293.7, "type": "quantitative", "axis": null, "scale": {"domain": [0, 349.7], "nice": false}}}},
{"data": {"values": [{}]}, "mark": {"type": "text", "text": "→", "fontSize": 24}, "encoding": {"x": {"datum": 10.08, "type": "quantitative", "axis": null, "scale": {"domain": [-1, 9], "nice": false, "zero": false}}, "y": {"datum": 293.7, "type": "quantitative", "axis": null, "scale": {"domain": [0, 349.7], "nice": false}}}},
{"data": {"values": [{}]}, "mark": {"type": "text", "text": "→", "fontSize": 24}, "encoding": {"x": {"datum": 10.914, "type": "quantitative", "axis": null, "scale": {"domain": [-1, 9], "nice": false, "zero": false}}, "y": {"datum": 293.7, "type": "quantitative", "axis": null, "scale": {"domain": [0, 349.7], "nice": false}}}},

{"data": {"values": [{}]}, "mark": {"type": "text", "text": "M", "font": "Liberation Sans", "fontWeight": "bold", "fontSize": 40}, "encoding": {"x": {"datum": 6.022, "type": "quantitative", "axis": null, "scale": {"domain": [-1, 9], "nice": false, "zero": false}}, "y": {"datum": -32.4, "type": "quantitative", "axis": null, "scale": {"domain": [0, 349.7], "nice": false}}}},
{"data": {"values": [{}]}, "mark": {"type": "text", "text": "2", "font": "Liberation Sans", "fontWeight": "bold", "fontSize": 27}, "encoding": {"x": {"datum": 6.269, "type": "quantitative", "axis": null, "scale": {"domain": [-1, 9], "nice": false, "zero": false}}, "y": {"datum": -25.4, "type": "quantitative", "axis": null, "scale": {"domain": [0, 349.7], "nice": false}}}},
{"data": {"values": [{}]}, "mark": {"type": "text", "text": "missing", "font": "Liberation Sans", "fontWeight": "bold", "fontSize": 28}, "encoding": {"x": {"datum": 6.269, "type": "quantitative", "axis": null, "scale": {"domain": [-1, 9], "nice": false, "zero": false}}, "y": {"datum": -37.1, "type": "quantitative", "axis": null, "scale": {"domain": [0, 349.7], "nice": false}}}},
{"data": {"values": [{}]}, "mark": {"type": "text", "text": "(ppπ)", "font": "Liberation Sans", "fontWeight": "bold", "fontSize": 40}, "encoding": {"x": {"datum": 7.117, "type": "quantitative", "axis": null, "scale": {"domain": [-1, 9], "nice": false, "zero": false}}, "y": {"datum": -32.4, "type": "quantitative", "axis": null, "scale": {"domain": [0, 349.7], "nice": false}}}},
{"data": {"values": [{}]}, "mark": {"type": "text", "text": "[GeV²]", "font": "Liberation Sans", "fontWeight": "bold", "fontSize": 41, "align": "right"}, "encoding": {"x": {"datum": 9, "type": "quantitative", "axis": null, "scale": {"domain": [-1, 9], "nice": false, "zero": false}}, "y": {"datum": -32.4, "type": "quantitative", "axis": null, "scale": {"domain": [0, 349.7], "nice": false}}}}
]
}
